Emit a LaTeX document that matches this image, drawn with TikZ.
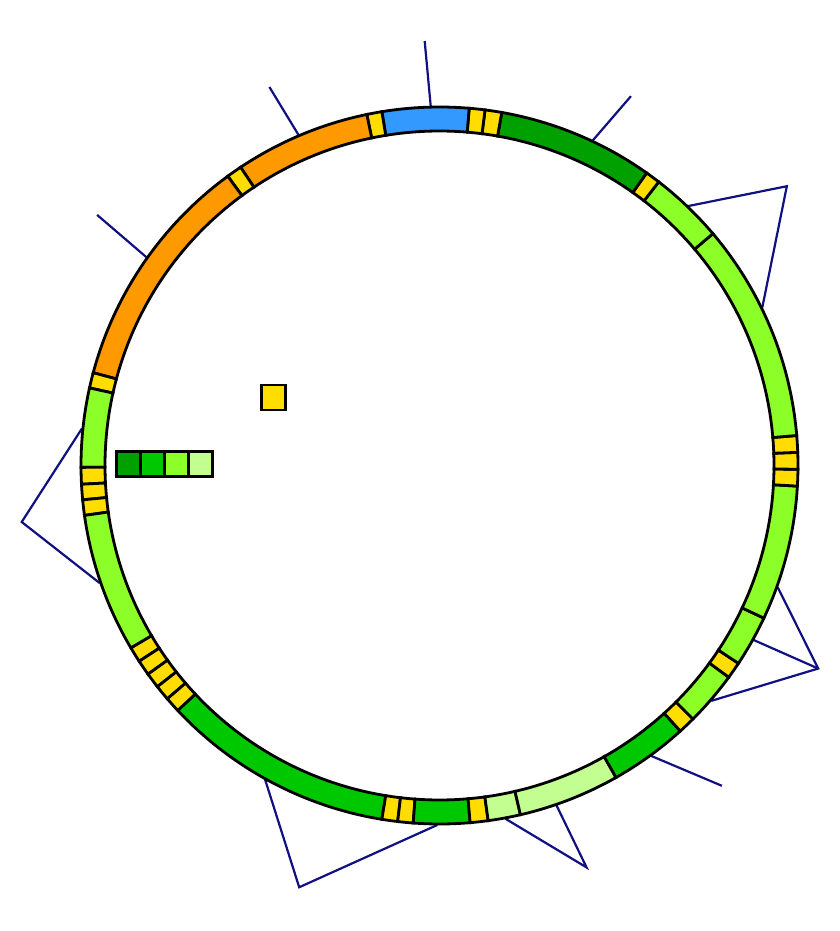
\documentclass[tikz,border=0pt]{standalone}
\usepackage{tikz}
\usetikzlibrary{positioning}

\definecolor{orng}{HTML}{FF9900}
\definecolor{sky}{HTML}{3399FF}
\definecolor{yel}{HTML}{FFDD00}
\definecolor{dgreen}{HTML}{00A000}
\definecolor{mgreen}{HTML}{00C800}
\definecolor{lgreen}{HTML}{8DFF28}
\definecolor{pgreen}{HTML}{C2FF90}
\definecolor{navy}{HTML}{101080}

\newcommand{\ringin}{334.5pt}
\newcommand{\ringout}{358.5pt}
\newcommand{\ringseg}[3]{\filldraw[ring, fill=#3] (#1:\ringin) arc[start angle=#1, end angle=#2, radius=\ringin] -- (#2:\ringout) arc[start angle=#2, end angle=#1, radius=\ringout] -- cycle;}

\begin{document}
\begin{tikzpicture}
		[tick/.style={draw=navy, line width=2.2pt},
		 ring/.style={draw=black, line width=2.8pt},
		 box/.style={rectangle, draw=black, line width=2.8pt, minimum width=24pt, minimum height=25pt, inner sep=0pt, outer sep=0pt}]
		\useasboundingbox (-439.5pt,-465.5pt) rectangle (400.5pt,465.5pt);

		\foreach \a/\b/\r in {91.4/92/424.7pt, 113.1/114.2/415pt, 144.6/143.8/424.3pt, 64.75/62.6/416pt, -53.9/-48.6/427pt}
			\draw[tick] (\a:359.5pt) -- (\b:\r);

		\coordinate (t1) at (38.8:445.7pt);
		\coordinate (t2) at (-28.2:429.7pt);
		\coordinate (t3) at (-69.9:428pt);
		\coordinate (t4) at (-108.4:444.5pt);
		\coordinate (t5) at (187.7:421.6pt);
		\draw[tick] (46.2:359.5pt) -- (t1) -- (26.1:359.5pt);
		\draw[tick] (-19.8:359.5pt) -- (t2) -- (-40.9:359.5pt);
		\draw[tick] (t2) -- (-29.05:359.5pt);
		\draw[tick] (-79.4:359.5pt) -- (t3) -- (-71:359.5pt);
		\draw[tick] (-119:359.5pt) -- (t4) -- (-90.35:359.5pt);
		\draw[tick] (174.1:359.5pt) -- (t5) -- (199.1:359.5pt);

		\foreach \a/\b/\c in {-136.9/-99.25/mgreen, -99.25/-96.7/yel, -96.7/-94.2/yel,
			-94.2/-85.1/mgreen, -85.1/-82.2/yel, -82.2/-76.95/pgreen, -76.95/-60.5/pgreen,
			-60.5/-47.8/mgreen, -47.8/-45/yel, -45/-36.2/lgreen, -36.2/-33.5/yel,
			-33.5/-25.2/lgreen, -25.2/-3.3/lgreen, -3.3/-0.6/yel, -0.6/2.1/yel, 2.1/4.8/yel,
			4.8/40.3/lgreen, 40.3/52.3/lgreen, 52.3/54.7/yel, 54.7/80/dgreen,
			80/82.7/yel, 82.7/85.25/yel, 85.25/99.25/sky, 99.25/101.7/yel,
			101.7/123.7/orng, 123.7/126.2/yel, 126.2/165/orng, 165/167.5/yel,
			167.5/180.3/lgreen, 180.3/183/yel, 183/185.5/yel, 185.5/188/yel,
			188/210.6/lgreen, 210.6/213.1/yel, 213.1/215.6/yel, 215.6/218.1/yel,
			218.1/220.6/yel, 220.6/223.1/yel}
			{\ringseg{\a}{\b}{\c}}

		\node[box, fill=yel] (key) at (-166.15pt,68pt) {};
		\node[box, fill=dgreen] (l1) at (-310.8pt,1.85pt) {};
		\node[box, fill=mgreen, right=0pt of l1] (l2) {};
		\node[box, fill=lgreen, right=0pt of l2] (l3) {};
		\node[box, fill=pgreen, right=0pt of l3] (l4) {};
	\end{tikzpicture}
\end{document}
